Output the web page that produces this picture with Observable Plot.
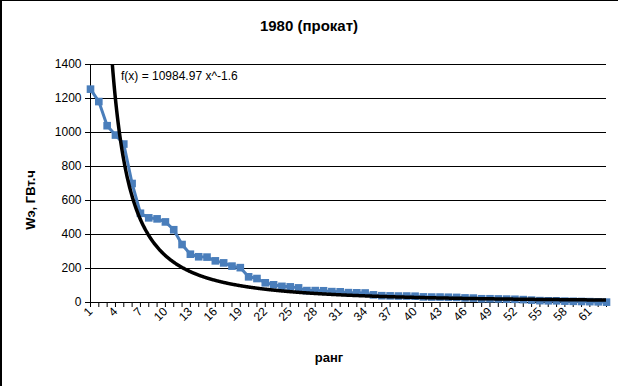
<!DOCTYPE html>
<html>
<head>
<meta charset="utf-8">
<script src="https://cdn.jsdelivr.net/npm/d3@7"></script>
<script src="https://cdn.jsdelivr.net/npm/@observablehq/plot@0.6"></script>
<style>
  html, body { margin: 0; padding: 0; background: #fff; }
  #wrap { position: relative; width: 618px; height: 386px; font-family: "Liberation Sans", Arial, sans-serif; overflow: hidden; }
  #frame { position: absolute; left: 0; top: 0; width: 618px; height: 386px; border-top: 1px solid #000; border-left: 2px solid #000; box-sizing: border-box; pointer-events: none; }
  .ttl { position: absolute; font-weight: bold; color: #000; white-space: nowrap; }
  #title { left: 0; width: 618px; text-align: center; top: 17px; font-size: 15px; }
  #xtitle { left: 0; width: 658px; text-align: center; top: 350px; font-size: 13px; }
  #ytitle { left: 30px; top: 200px; font-size: 13px; transform: translate(-50%, -50%) rotate(-90deg); }
  #eq { position: absolute; left: 121px; top: 69px; font-size: 12px; color: #000; white-space: nowrap; }
</style>
</head>
<body>
<div id="wrap">
  <div id="chart"></div>
  <div id="title" class="ttl">1980 (прокат)</div>
  <div id="xtitle" class="ttl">ранг</div>
  <div id="ytitle" class="ttl">Wэ, ГВт.ч</div>
  <div id="eq">f(x) = 10984.97 x^-1.6</div>
  <div id="frame"></div>
</div>
<script>
// Observed values (GWh) by rank 1..63
const values = [1255, 1182, 1040, 985, 932, 700, 525, 498, 492, 474, 428, 341, 284, 269, 267, 245, 233, 214, 205, 151, 141, 116, 104, 95, 92, 86, 70, 70, 69, 64, 63, 58, 57, 56, 45, 40, 39, 38, 38, 37, 33, 32, 32, 31, 30, 27, 26, 22, 22, 21, 20, 19, 17, 14, 11, 10, 10, 8, 7, 6, 5, 4, 2];
const ranks = values.map((_, i) => i + 1);
const yTicks = [0, 200, 400, 600, 800, 1000, 1200, 1400];
// Power trendline from the chart's equation f(x) = 10984.97 x^-1.6
const trendCoef = 10984.97;
const trendExp = -1.6;

const data = ranks.map((r, i) => ({rank: r, value: values[i]}));
const trend = d3.range(1, 63.001, 0.05).map(x => ({x, y: trendCoef * Math.pow(x, trendExp)}));

const blue = "#4a7ebb";

const chart = Plot.plot({
  width: 618,
  height: 386,
  marginLeft: 90,
  marginRight: 12,
  marginTop: 64,
  marginBottom: 84,
  style: {fontFamily: "Liberation Sans, Arial, sans-serif", fontSize: "12px", color: "#000", background: "transparent"},
  x: {domain: [1, 63]},
  y: {domain: [0, 1400]},
  marks: [
    Plot.gridY(yTicks, {stroke: "#000", strokeOpacity: 1, strokeWidth: 1}),
    Plot.axisY({ticks: yTicks, tickSize: 5, tickPadding: 4, label: null, fontSize: 12, tickFormat: d => String(d)}),
    Plot.axisX({ticks: ranks, tickSize: 5, tickPadding: 2, tickRotate: -45, label: null, fontSize: 12,
      tickFormat: d => ((d - 1) % 3 === 0 ? String(d) : "")}),
    Plot.ruleX([1], {stroke: "#000"}),
    Plot.ruleY([0], {stroke: "#000"}),
    Plot.line(data, {x: "rank", y: "value", stroke: blue, strokeWidth: 3}),
    Plot.dot(data, {x: "rank", y: "value", symbol: "square", r: 4.3, fill: blue, stroke: "none"}),
    Plot.line(trend, {x: "x", y: "y", stroke: "#000", strokeWidth: 3.5, clip: true})
  ]
});
document.getElementById("chart").appendChild(chart);
</script>
</body>
</html>
